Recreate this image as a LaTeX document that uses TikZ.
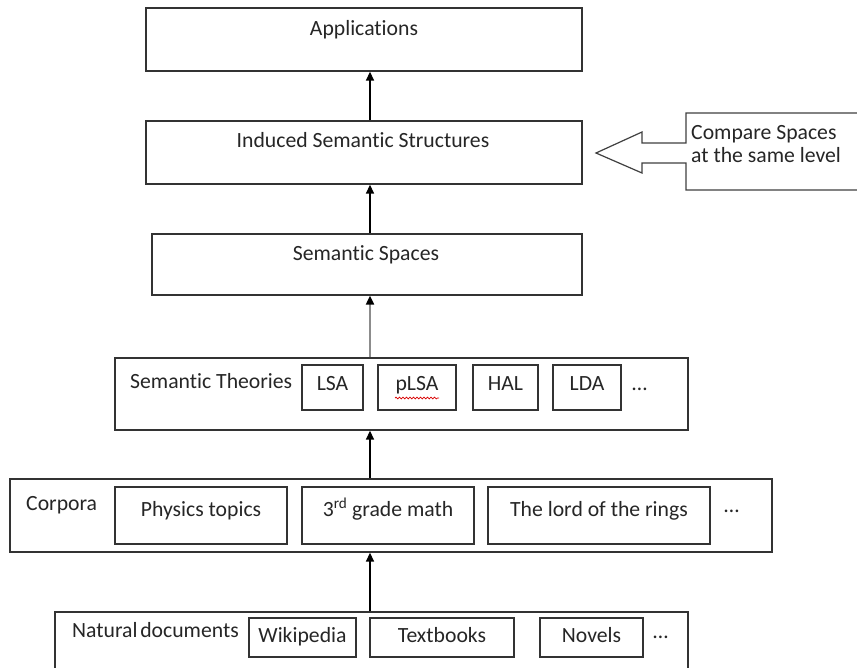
\documentclass[tikz,border=0pt]{standalone}
\usepackage{fontspec}
\setmainfont{Carlito}[Ligatures=CommonOff]
\usetikzlibrary{arrows.meta,decorations.pathmorphing}
\begin{document}
\begin{tikzpicture}[x=1pt,y=-1pt,
  every node/.style={font=\fontsize{21.7pt}{24pt}\selectfont, text=black!85},
  outerbox/.style={draw=black!80, line width=1.3pt, inner sep=0pt},
  innerbox/.style={draw=black!80, line width=1.3pt, inner xsep=0pt, inner ysep=3pt, anchor=base},
  txt/.style={inner sep=0pt},
  uparrow/.style={line width=1.4pt, -{Triangle[width=8pt,length=9pt,black]}},
  spell/.style={draw=red!85!black, line width=0.7pt, decorate, decoration={snake, amplitude=0.9pt, segment length=3.5pt}}
]
\clip (0,0) rectangle (857,667);
\fill[white] (0,0) rectangle (857,667);
\coordinate (spine) at (370,0);

% outer boxes
\node[outerbox, minimum width=436pt, minimum height=63pt] (app) at (364,39.5) {};
\node[outerbox, minimum width=436pt, minimum height=63pt] (ind) at (364,152.5) {};
\node[outerbox, minimum width=430pt, minimum height=61pt] (spa) at (367,264.5) {};
\node[outerbox, minimum width=573pt, minimum height=72pt] (theo) at (401.5,394) {};
\node[outerbox, minimum width=762pt, minimum height=73pt] (corp) at (391,515.5) {};
\node[outerbox, minimum width=633pt, minimum height=88pt] (nat) at (371.5,656) {};

% titles
\node[txt, anchor=base] (tapp) at (364,35) {Applications};
\node[txt, anchor=base] (tind) at (363,147) {Induced Semantic Structures};
\node[txt, anchor=base] (tspa) at (366,260) {Semantic Spaces};
\node[txt, anchor=base west] (ttheo) at (130,388) {Semantic Theories};
\node[txt, anchor=base west] (tcorp) at (26,510) {Corpora};
\node[txt, anchor=base west] (tnat) at (72,637) {Natural\kern-0.1em\ documents};

% theories
\begin{scope}[every node/.append style={text height=22pt, text depth=17pt}]
\node[innerbox, minimum width=61pt] (lsa) at (332.5,390) {LSA};
\node[innerbox, minimum width=78pt] (plsa) at (417,390) {pLSA};
\node[innerbox, minimum width=65pt] (hal) at (505.5,390) {HAL};
\node[innerbox, minimum width=68pt] (lda) at (587,390) {LDA};
\end{scope}
\node[txt, anchor=base west] (dots1) at (632,390) {…};
\draw[spell] ([xshift=-22pt,yshift=-8pt]plsa.base) -- ([xshift=22pt,yshift=-8pt]plsa.base);

% corpora
\begin{scope}[every node/.append style={text height=26pt, text depth=25pt}]
\node[innerbox, minimum width=172pt] (phys) at (201,516) {Physics topics};
\node[innerbox, minimum width=172pt] (math) at (388,516) {3\textsuperscript{rd} grade math};
\node[innerbox, minimum width=222pt] (lord) at (599,516) {The lord of the rings};
\end{scope}
\node[txt, anchor=base west] (dots2) at (724,512) {…};

% natural documents
\begin{scope}[every node/.append style={text height=21pt, text depth=12pt}]
\node[innerbox, minimum width=107pt] (wiki) at (302.5,642) {Wikipedia};
\node[innerbox, minimum width=144pt] (tb) at (442,642) {Textbooks};
\node[innerbox, minimum width=103pt] (nov) at (591.5,642) {Novels};
\end{scope}
\node[txt, anchor=base west] (dots3) at (653,638) {…};

% connectors
\draw[uparrow] (nat.north -| spine) -- (corp.south -| spine);
\draw[uparrow] (corp.north -| spine) -- (theo.south -| spine);
\draw[uparrow, draw=black!45, line width=2pt] (theo.north -| spine) -- (spa.south -| spine);
\draw[uparrow] (spa.north -| spine) -- (ind.south -| spine);
\draw[uparrow] (ind.north -| spine) -- (app.south -| spine);

% callout with block arrow
\draw[draw=black!75, line width=1.2pt, line join=miter]
  (870,113) -- (686,113) -- (686,143) -- (642,143) -- (642,132) -- (596,153)
  -- (642,173) -- (642,163) -- (686,163) -- (686,190) -- (870,190);
\node[txt, anchor=base west, align=left] (cmp) at (691,162) {Compare Spaces\\[-1pt]at the same level};
\end{tikzpicture}
\end{document}
